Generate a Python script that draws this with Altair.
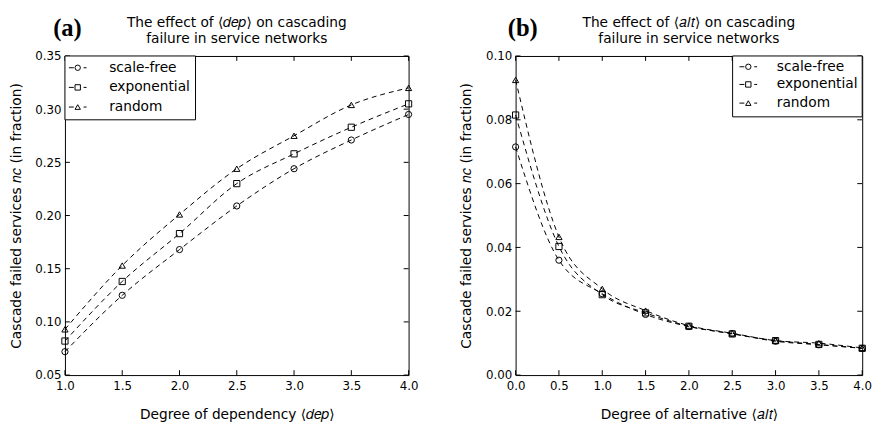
import altair as alt
import pandas as pd

names = ["scale-free", "exponential", "random"]
shapes = ["circle", "square", "triangle-up"]

dep_x = [1.0, 1.5, 2.0, 2.5, 3.0, 3.5, 4.0]
dep_scale_free = [0.072, 0.125, 0.168, 0.209, 0.244, 0.271, 0.295]
dep_exponential = [0.082, 0.138, 0.183, 0.230, 0.258, 0.283, 0.305]
dep_random = [0.093, 0.153, 0.201, 0.244, 0.275, 0.304, 0.320]

alt_x = [0.0, 0.5, 1.0, 1.5, 2.0, 2.5, 3.0, 3.5, 4.0]
alt_scale_free = [0.0715, 0.0360, 0.0255, 0.0190, 0.0152, 0.0130, 0.0106, 0.0095, 0.0084]
alt_exponential = [0.0815, 0.0403, 0.0252, 0.0195, 0.0153, 0.0129, 0.0108, 0.0096, 0.0084]
alt_random = [0.0925, 0.0433, 0.0270, 0.0202, 0.0155, 0.0131, 0.0108, 0.0100, 0.0085]

dep_xticks = [1.0, 1.5, 2.0, 2.5, 3.0, 3.5, 4.0]
dep_yticks = [0.05, 0.10, 0.15, 0.20, 0.25, 0.30, 0.35]
alt_xticks = [0.0, 0.5, 1.0, 1.5, 2.0, 2.5, 3.0, 3.5, 4.0]
alt_yticks = [0.00, 0.02, 0.04, 0.06, 0.08, 0.10]

H = 325
FONT = "DejaVu Sans"
YTITLE = "Cascade failed services 𝑛𝑐 (in fraction)"


def panel(W, xs, series, xdom, ydom, xticks, yticks, yfmt, xtitle, title_lines,
          letter, letter_x, box_x, box_w, box_h, rows, sym_dx):
    recs = []
    for name, vals in zip(names, series):
        for xv, yv in zip(xs, vals):
            recs.append({"x": xv, "y": yv, "series": name})
    df = pd.DataFrame(recs)
    xenc = alt.X("x:Q", scale=alt.Scale(domain=xdom, nice=False, zero=False),
                 axis=alt.Axis(values=xticks, format=".1f", title=xtitle))
    yenc = alt.Y("y:Q", scale=alt.Scale(domain=ydom, nice=False, zero=False),
                 axis=alt.Axis(values=yticks, format=yfmt, title=YTITLE))
    lines = alt.Chart(df).mark_line(
        color="black", strokeDash=[5, 4], strokeWidth=1, interpolate="monotone"
    ).encode(x=xenc, y=yenc, detail="series:N")
    pts = alt.Chart(df).mark_point(
        filled=False, color="black", strokeWidth=1, opacity=1, size=40
    ).encode(
        x="x:Q", y="y:Q",
        shape=alt.Shape("series:N", scale=alt.Scale(domain=names, range=shapes), legend=None),
    )
    xt = pd.DataFrame({"x": xticks})
    yt = pd.DataFrame({"y": yticks})
    tk = dict(color="black", strokeWidth=1)
    layers = [lines, pts,
              alt.Chart(xt).mark_rule(**tk).encode(x="x:Q", y=alt.value(H - 5), y2=alt.value(H)),
              alt.Chart(xt).mark_rule(**tk).encode(x="x:Q", y=alt.value(0), y2=alt.value(5)),
              alt.Chart(yt).mark_rule(**tk).encode(y="y:Q", x=alt.value(0), x2=alt.value(5)),
              alt.Chart(yt).mark_rule(**tk).encode(y="y:Q", x=alt.value(W - 5), x2=alt.value(W))]
    one = pd.DataFrame({"a": [0]})
    layers.append(alt.Chart(one).mark_rect(fill="white", stroke="black", strokeWidth=1).encode(
        x=alt.value(box_x), x2=alt.value(box_x + box_w), y=alt.value(0), y2=alt.value(box_h)))
    for name, shp, ry in zip(names, shapes, rows):
        layers.append(alt.Chart(one).mark_rule(color="black", strokeWidth=1).encode(
            x=alt.value(box_x + sym_dx - 9), x2=alt.value(box_x + sym_dx - 4), y=alt.value(ry)))
        layers.append(alt.Chart(one).mark_rule(color="black", strokeWidth=1).encode(
            x=alt.value(box_x + sym_dx + 6), x2=alt.value(box_x + sym_dx + 9), y=alt.value(ry)))
        layers.append(alt.Chart(one).mark_point(
            shape=shp, filled=False, color="black", strokeWidth=1, opacity=1, size=30
        ).encode(x=alt.value(box_x + sym_dx), y=alt.value(ry)))
        layers.append(alt.Chart(one).mark_text(
            align="left", baseline="middle", font=FONT, fontSize=14, color="black"
        ).encode(x=alt.value(box_x + 45), y=alt.value(ry), text=alt.value(name)))
    for line, ty in zip(title_lines, [-34, -17]):
        layers.append(alt.Chart(one).mark_text(
            align="center", baseline="middle", font=FONT, fontSize=14, color="black"
        ).encode(x=alt.value(W / 2), y=alt.value(ty), text=alt.value(line)))
    layers.append(alt.Chart(one).mark_text(
        align="left", baseline="alphabetic", font="Liberation Serif", fontWeight="bold",
        fontSize=25, color="black"
    ).encode(x=alt.value(letter_x), y=alt.value(-20), text=alt.value(letter)))
    return alt.layer(*layers).properties(width=W, height=H)


pa = panel(350, dep_x, [dep_scale_free, dep_exponential, dep_random], [1.0, 4.0], [0.05, 0.35],
           dep_xticks, dep_yticks, ".2f", "Degree of dependency ⟨𝑑𝑒𝑝⟩",
           ["The effect of ⟨𝑑𝑒𝑝⟩ on cascading", "failure in service networks"],
           "(a)", -12, 0, 133, 65, [12, 32, 52], 13)
pb = panel(353, alt_x, [alt_scale_free, alt_exponential, alt_random], [0.0, 4.0], [0.0, 0.10],
           alt_xticks, alt_yticks, ".2f", "Degree of alternative ⟨𝑎𝑙𝑡⟩",
           ["The effect of ⟨𝑎𝑙𝑡⟩ on cascading", "failure in service networks"],
           "(b)", -8, 353 - 132, 132, 62, [11, 29, 48], 16)

chart = alt.hconcat(pa, pb, spacing=40).properties(
    padding={"left": 0, "top": 3, "right": 0, "bottom": 0}
).configure_view(
    stroke="black", strokeWidth=1
).configure_axis(
    ticks=False, grid=False, domain=False, labelFont=FONT, labelFontSize=12,
    labelColor="black", titleFont=FONT, titleFontSize=14, titleFontWeight="normal",
    titleColor="black", labelPadding=4, titlePadding=12, labelFlush=False, labelOverlap=False,
).configure_axisX(labelPadding=6, titlePadding=16)

chart.save("out.html", embed_options={"renderer": "svg", "actions": False})
